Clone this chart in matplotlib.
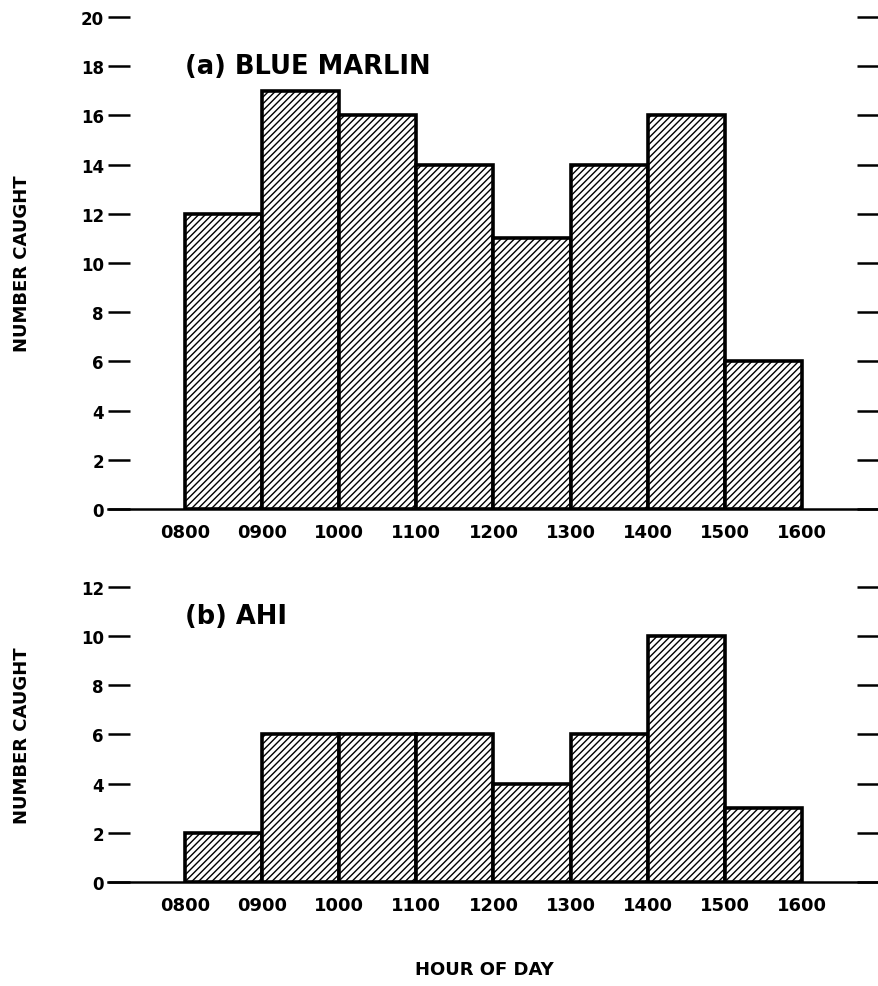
import numpy as np
import matplotlib
matplotlib.use("Agg")
import matplotlib.pyplot as plt

hours = [800, 900, 1000, 1100, 1200, 1300, 1400, 1500]
hour_labels = ["0800", "0900", "1000", "1100", "1200", "1300", "1400", "1500", "1600"]
blue_marlin = [12, 17, 16, 14, 11, 14, 16, 6]
ahi = [2, 6, 6, 6, 4, 6, 10, 3]

plt.rcParams['font.family'] = ['DejaVu Sans']
plt.rcParams['hatch.linewidth'] = 1.0

fig = plt.figure(figsize=(8.79, 9.87), dpi=100)
ax1 = fig.add_axes([0.1229, 0.4833, 0.877, 0.4985])
ax2 = fig.add_axes([0.1229, 0.1054, 0.877, 0.2989])


def draw_panel(ax, counts, ymax, title):
    ax.bar(hours, counts, width=100, align='edge', color='white',
           edgecolor='black', linewidth=2.6, hatch='/////', zorder=2)
    ax.set_xlim(700, 1700)
    ax.set_ylim(0, ymax)
    for s in ['left', 'right', 'top']:
        ax.spines[s].set_visible(False)
    ax.spines['bottom'].set_linewidth(1.8)
    ax.set_xticks(list(range(800, 1700, 100)))
    ax.set_xticklabels(hour_labels, fontsize=13, fontweight='bold')
    ax.tick_params(axis='x', length=0, pad=10)
    ax.set_yticks(list(range(0, ymax + 1, 2)))
    ax.set_yticklabels([str(v) for v in range(0, ymax + 1, 2)],
                       fontsize=12, fontweight='bold')
    ax.tick_params(axis='y', direction='in', length=16, width=1.8,
                   right=True, pad=3)
    ax.set_ylabel("NUMBER CAUGHT", fontsize=13, fontweight='bold')
    ax.text(800, ymax * 0.9, title, fontsize=18.5, fontweight='bold',
            ha='left', va='center')


draw_panel(ax1, blue_marlin, 20, "(a) BLUE MARLIN")
draw_panel(ax2, ahi, 12, "(b) AHI")
ax1.yaxis.set_label_coords(-0.1, 0.5)
ax2.yaxis.set_label_coords(-0.1, 0.5)

fig.text(0.551, 0.008, "HOUR OF DAY", fontsize=13, fontweight='bold',
         ha='center', va='bottom')

fig.savefig("out.png", dpi=100)
